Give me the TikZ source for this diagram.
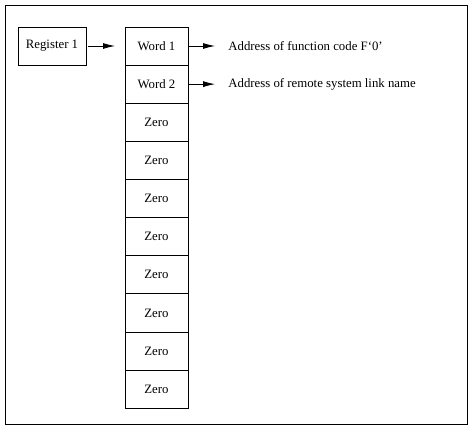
\documentclass[tikz,border=0pt]{standalone}
\usepackage{fontspec}
\setmainfont{Liberation Serif}
\usetikzlibrary{arrows.meta,positioning}

\begin{document}
\begin{tikzpicture}[x=0.75pt,y=-0.75pt,font=\fontsize{9.6}{11}\selectfont,>={Latex[length=9pt,width=4.5pt]},line width=0.6pt,
  cell/.style={draw,minimum width=47.25pt,minimum height=28.6pt,inner sep=0pt,outer sep=0pt},
  note/.style={inner sep=0pt,anchor=west}]
  \useasboundingbox (0,0) rectangle (472,431);
  \draw (5,5) rectangle (467,424);
  \node[cell,minimum width=51pt] (reg) at (52,46) {Register 1};
  \node[cell] (w1) at (156.5,46) {Word 1};
  \node[cell,below=0pt of w1] (w2) {Word 2};
  \node[cell,below=0pt of w2] (z1) {Zero};
  \foreach \i [count=\j from 1] in {2,...,8}
    \node[cell,below=0pt of z\j] (z\i) {Zero};
  \node[note,right=30pt of w1] (a1) {Address of function code F`0'};
  \node[note,right=30pt of w2] (a2) {Address of remote system link name};
  \draw[->,shorten <=1.5pt,shorten >=7.5pt] (reg) -- (w1);
  \draw[->,shorten >=9.75pt] (w1) -- (a1);
  \draw[->,shorten >=9.75pt] (w2) -- (a2);
\end{tikzpicture}
\end{document}
